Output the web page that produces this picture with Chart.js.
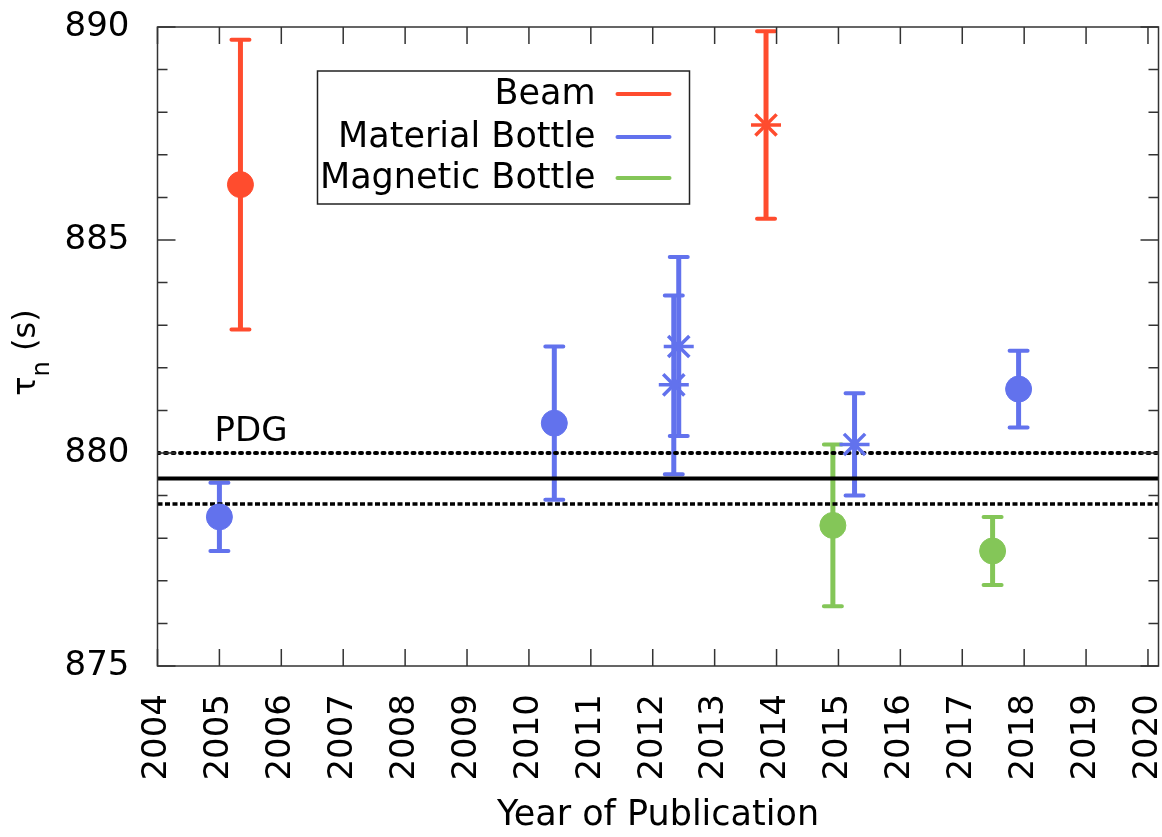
<!DOCTYPE html>
<html lang="en">
<head>
<meta charset="UTF-8">
<title>Neutron lifetime by year of publication</title>
<script src="https://cdn.jsdelivr.net/npm/chart.js"></script>
<style>
  html, body { margin: 0; padding: 0; background: #fff; }
  #wrap { width: 1162px; height: 837px; }
</style>
</head>
<body>
<div id="wrap"><canvas id="lifetimeChart" width="1162" height="837"></canvas></div>
<script>
// values: publication year, lifetime (s), error (s), marker
const beamYears = [2005.34, 2013.83];
const beamLife = [886.3, 887.7];
const beamErr = [3.4, 2.2];
const beamMarks = ['circle', 'star'];

const materialYears = [2005.0, 2010.41, 2012.34, 2012.42, 2015.26, 2017.91];
const materialLife = [878.5, 880.7, 881.6, 882.5, 880.2, 881.5];
const materialErr = [0.8, 1.8, 2.1, 2.1, 1.2, 0.9];
const materialMarks = ['circle', 'circle', 'star', 'star', 'star', 'circle'];

const magneticYears = [2014.91, 2017.49];
const magneticLife = [878.3, 877.7];
const magneticErr = [1.9, 0.8];
const magneticMarks = ['circle', 'circle'];

// PDG average and its band
const pdgValue = 879.4;
const pdgErr = 0.6;

// axes
const xRange = [2004, 2020.17];
const yearTicks = [2004, 2005, 2006, 2007, 2008, 2009, 2010, 2011, 2012,
                   2013, 2014, 2015, 2016, 2017, 2018, 2019, 2020];
const yTicks = [875, 876, 877, 878, 879, 880, 881, 882, 883, 884, 885, 886, 887, 888, 889, 890];
const yLabelTicks = [875, 880, 885, 890];

const FONT = "'DejaVu Sans', 'Liberation Sans', sans-serif";
const RED = 'rgb(255, 76, 46)';
const BLUE = 'rgb(98, 114, 237)';
const GREEN = 'rgb(132, 198, 88)';

function pointSet(label, years, life, err, marks, color) {
    return {
        label: label,
        data: years.map((yr, i) => ({ x: yr, y: life[i] })),
        yErr: err,
        showLine: false,
        borderColor: color,
        backgroundColor: color,
        pointStyle: marks,
        pointRadius: marks.map(m => m === 'star' ? 15 : 13),
        pointBorderWidth: marks.map(m => m === 'star' ? 3.5 : 1),
        pointBackgroundColor: color,
        pointBorderColor: color,
        order: 0
    };
}

function pdgLine(value, dash, width, cap) {
    return {
        label: 'PDG',
        data: [{ x: xRange[0], y: value }, { x: xRange[1], y: value }],
        showLine: true,
        borderColor: '#000',
        borderWidth: width,
        borderDash: dash,
        borderCapStyle: cap,
        pointRadius: 0,
        order: 10
    };
}

// vertical error bars with caps, under the markers
const errorBars = {
    id: 'errorBars',
    beforeDatasetsDraw(chart) {
        const { ctx, scales: { x, y } } = chart;
        ctx.save();
        chart.data.datasets.forEach(ds => {
            if (!ds.yErr) return;
            ctx.strokeStyle = ds.borderColor;
            ds.data.forEach((p, i) => {
                const px = x.getPixelForValue(p.x);
                const top = y.getPixelForValue(p.y + ds.yErr[i]);
                const bot = y.getPixelForValue(p.y - ds.yErr[i]);
                ctx.lineWidth = 5;
                ctx.lineCap = 'butt';
                ctx.beginPath();
                ctx.moveTo(px, top);
                ctx.lineTo(px, bot);
                ctx.stroke();
                ctx.lineWidth = 4;
                ctx.lineCap = 'round';
                ctx.beginPath();
                ctx.moveTo(px - 9, top); ctx.lineTo(px + 9, top);
                ctx.moveTo(px - 9, bot); ctx.lineTo(px + 9, bot);
                ctx.stroke();
            });
        });
        ctx.restore();
    }
};

// gnuplot style frame: box with inward ticks on all four sides, key, labels
const frame = {
    id: 'frame',
    afterDraw(chart) {
        const { ctx, chartArea: a, scales: { x, y } } = chart;
        ctx.save();
        ctx.strokeStyle = '#333';
        ctx.lineWidth = 1.5;
        ctx.strokeRect(a.left, a.top, a.right - a.left, a.bottom - a.top);
        ctx.beginPath();
        x.ticks.forEach(t => {
            const px = x.getPixelForValue(t.value);
            ctx.moveTo(px, a.bottom); ctx.lineTo(px, a.bottom - 17);
            ctx.moveTo(px, a.top); ctx.lineTo(px, a.top + 17);
        });
        y.ticks.forEach(t => {
            const py = y.getPixelForValue(t.value);
            const len = yLabelTicks.includes(t.value) ? 18 : 10;
            ctx.moveTo(a.left, py); ctx.lineTo(a.left + len, py);
            ctx.moveTo(a.right, py); ctx.lineTo(a.right - len, py);
        });
        ctx.stroke();

        // y axis title with a real subscript
        ctx.fillStyle = '#000';
        ctx.textBaseline = 'alphabetic';
        ctx.textAlign = 'left';
        const big = '32px ' + FONT, small = '24px ' + FONT;
        ctx.font = big;
        const wTau = ctx.measureText('τ').width;
        const wRest = ctx.measureText(' (s)').width;
        ctx.font = small;
        const wSub = ctx.measureText('n').width;
        ctx.translate(35, (a.top + a.bottom) / 2 + 6);
        ctx.rotate(-Math.PI / 2);
        let tx = -(wTau + wSub + wRest) / 2;
        ctx.font = big;
        ctx.fillText('τ', tx, 0);
        tx += wTau;
        ctx.font = small;
        ctx.fillText('n', tx, 14);
        tx += wSub;
        ctx.font = big;
        ctx.fillText(' (s)', tx, 0);
        ctx.setTransform(1, 0, 0, 1, 0, 0);

        // PDG label above the band
        ctx.font = '34px ' + FONT;
        ctx.fillText('PDG', a.left + 57, y.getPixelForValue(pdgValue + pdgErr) - 12);

        // key box, labels right aligned with line samples on the right
        const bx = a.left + 160, by = a.top + 44, bw = 372, bh = 133;
        ctx.fillStyle = '#fff';
        ctx.fillRect(bx, by, bw, bh);
        ctx.strokeStyle = '#222';
        ctx.lineWidth = 1.5;
        ctx.strokeRect(bx, by, bw, bh);
        const rows = [23, 66, 107];
        ctx.font = '35px ' + FONT;
        ctx.textAlign = 'right';
        ctx.textBaseline = 'middle';
        ctx.lineWidth = 4;
        ctx.lineCap = 'round';
        chart.data.datasets.filter(ds => ds.yErr).forEach((ds, i) => {
            const ry = by + rows[i];
            ctx.fillStyle = '#000';
            ctx.fillText(ds.label, bx + 278, ry + 1);
            ctx.strokeStyle = ds.borderColor;
            ctx.beginPath();
            ctx.moveTo(bx + 300, ry);
            ctx.lineTo(bx + 352, ry);
            ctx.stroke();
        });
        ctx.restore();
    }
};

new Chart(document.getElementById('lifetimeChart'), {
    type: 'scatter',
    data: {
        datasets: [
            pointSet('Beam', beamYears, beamLife, beamErr, beamMarks, RED),
            pointSet('Material Bottle', materialYears, materialLife, materialErr, materialMarks, BLUE),
            pointSet('Magnetic Bottle', magneticYears, magneticLife, magneticErr, magneticMarks, GREEN),
            pdgLine(pdgValue + pdgErr, [2, 5.5], 4, 'round'),
            pdgLine(pdgValue, [], 4, 'butt'),
            pdgLine(pdgValue - pdgErr, [5, 2.5], 3.5, 'butt')
        ]
    },
    options: {
        responsive: false,
        animation: false,
        layout: { autoPadding: false, padding: { top: 27, right: 3.5, left: 0, bottom: 0 } },
        plugins: {
            legend: { display: false },
            tooltip: { enabled: false }
        },
        scales: {
            x: {
                type: 'linear',
                min: xRange[0],
                max: xRange[1],
                afterBuildTicks: s => { s.ticks = yearTicks.map(v => ({ value: v })); },
                ticks: {
                    autoSkip: false,
                    minRotation: 90,
                    maxRotation: 90,
                    padding: 20,
                    color: '#000',
                    font: { family: FONT, size: 34 },
                    callback: v => String(v)
                },
                grid: { display: false },
                border: { display: false },
                title: {
                    display: true,
                    text: 'Year of Publication',
                    color: '#000',
                    font: { family: FONT, size: 35 },
                    padding: { top: 0, bottom: 0 }
                },
                afterFit: s => { s.height = 171; s.paddingLeft = 0; s.paddingRight = 0; }
            },
            y: {
                type: 'linear',
                min: 875,
                max: 890,
                afterBuildTicks: s => { s.ticks = yTicks.map(v => ({ value: v })); },
                ticks: {
                    autoSkip: false,
                    padding: 20,
                    color: '#000',
                    font: { family: FONT, size: 34 },
                    callback: v => yLabelTicks.includes(v) ? String(v) : ''
                },
                grid: { display: false },
                border: { display: false },
                title: { display: false },
                afterFit: s => { s.width = 157.5; s.paddingTop = 0; s.paddingBottom = 0; }
            }
        }
    },
    plugins: [errorBars, frame]
});
</script>
</body>
</html>
